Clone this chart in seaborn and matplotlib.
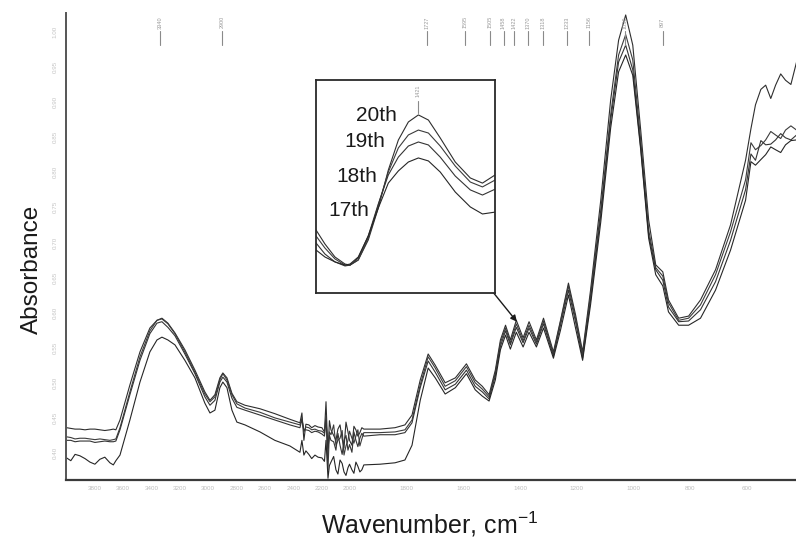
import numpy as np
import pandas as pd
import matplotlib
matplotlib.use("Agg")
import matplotlib.pyplot as plt
import seaborn as sns

# ---------------- data ----------------
wavenumber = [4000, 3970, 3940, 3906, 3870, 3835, 3800, 3765, 3730, 3694,
              3670, 3652, 3623, 3553, 3482, 3412, 3362, 3327, 3285, 3235,
              3165, 3094, 3024, 2988, 2953, 2918, 2897, 2868, 2833, 2798,
              2741, 2635, 2530, 2424, 2353, 2339, 2325, 2311, 2290, 2270,
              2247, 2225, 2198, 2180, 2169, 2155, 2145, 2134, 2115, 2099,
              2085, 2070, 2055, 2042, 2028, 2014, 2003, 1993, 1986, 1979,
              1972, 1965, 1958, 1951, 1894, 1841, 1806, 1781, 1752, 1724,
              1699, 1664, 1628, 1589, 1558, 1533, 1509, 1487, 1469, 1451,
              1434, 1413, 1389, 1368, 1342, 1317, 1282, 1257, 1229, 1204,
              1179, 1151, 1115, 1080, 1052, 1027, 1002, 974, 946, 921,
              896, 876, 840, 805, 763, 710, 657, 604, 585, 569,
              550, 533, 515, 498, 480, 463, 444, 424]

abs_20th = [0.436, 0.435, 0.434, 0.434, 0.433, 0.434, 0.434, 0.433, 0.432, 0.433,
            0.434, 0.433, 0.447, 0.497, 0.544, 0.578, 0.589, 0.592, 0.585, 0.571,
            0.547, 0.518, 0.487, 0.475, 0.483, 0.507, 0.514, 0.507, 0.485, 0.473,
            0.468, 0.463, 0.456, 0.448, 0.443, 0.457, 0.418, 0.441, 0.440, 0.436,
            0.439, 0.437, 0.436, 0.430, 0.473, 0.397, 0.446, 0.433, 0.425, 0.418,
            0.434, 0.440, 0.420, 0.407, 0.444, 0.430, 0.418, 0.411, 0.438, 0.433,
            0.424, 0.429, 0.436, 0.434, 0.434, 0.436, 0.440, 0.454, 0.504, 0.541,
            0.525, 0.500, 0.507, 0.527, 0.504, 0.495, 0.483, 0.518, 0.561, 0.582,
            0.561, 0.589, 0.564, 0.587, 0.561, 0.592, 0.544, 0.589, 0.642, 0.597,
            0.544, 0.632, 0.760, 0.903, 0.988, 1.024, 0.981, 0.860, 0.732, 0.668,
            0.658, 0.618, 0.592, 0.595, 0.618, 0.661, 0.725, 0.817, 0.862, 0.896,
            0.918, 0.924, 0.905, 0.924, 0.940, 0.931, 0.925, 0.957]

abs_19th = [0.423, 0.422, 0.420, 0.421, 0.421, 0.420, 0.419, 0.420, 0.419, 0.418,
            0.419, 0.420, 0.436, 0.487, 0.537, 0.574, 0.589, 0.591, 0.584, 0.570,
            0.544, 0.515, 0.484, 0.473, 0.480, 0.504, 0.513, 0.504, 0.483, 0.470,
            0.464, 0.458, 0.450, 0.444, 0.440, 0.450, 0.430, 0.437, 0.436, 0.433,
            0.434, 0.432, 0.431, 0.428, 0.454, 0.376, 0.430, 0.426, 0.440, 0.411,
            0.418, 0.421, 0.432, 0.397, 0.410, 0.418, 0.431, 0.421, 0.414, 0.424,
            0.433, 0.410, 0.420, 0.429, 0.429, 0.430, 0.433, 0.447, 0.497, 0.537,
            0.521, 0.495, 0.503, 0.523, 0.500, 0.491, 0.480, 0.514, 0.557, 0.578,
            0.557, 0.584, 0.560, 0.582, 0.558, 0.588, 0.541, 0.587, 0.638, 0.592,
            0.540, 0.625, 0.746, 0.882, 0.967, 0.996, 0.960, 0.846, 0.718, 0.664,
            0.652, 0.614, 0.589, 0.592, 0.611, 0.654, 0.715, 0.789, 0.842, 0.832,
            0.838, 0.846, 0.858, 0.853, 0.848, 0.860, 0.866, 0.860]

abs_18th = [0.418, 0.418, 0.416, 0.417, 0.417, 0.417, 0.415, 0.416, 0.417, 0.416,
            0.416, 0.417, 0.433, 0.483, 0.532, 0.570, 0.585, 0.587, 0.579, 0.567,
            0.541, 0.513, 0.480, 0.468, 0.475, 0.501, 0.508, 0.501, 0.478, 0.465,
            0.461, 0.454, 0.447, 0.440, 0.436, 0.447, 0.433, 0.433, 0.432, 0.429,
            0.431, 0.430, 0.427, 0.424, 0.447, 0.407, 0.425, 0.418, 0.416, 0.404,
            0.428, 0.411, 0.398, 0.418, 0.425, 0.404, 0.412, 0.401, 0.430, 0.418,
            0.409, 0.421, 0.428, 0.424, 0.426, 0.426, 0.429, 0.443, 0.493, 0.531,
            0.515, 0.490, 0.498, 0.518, 0.495, 0.487, 0.477, 0.510, 0.552, 0.574,
            0.554, 0.579, 0.557, 0.578, 0.555, 0.584, 0.538, 0.582, 0.632, 0.587,
            0.535, 0.618, 0.739, 0.874, 0.957, 0.981, 0.946, 0.835, 0.711, 0.661,
            0.646, 0.608, 0.587, 0.588, 0.604, 0.644, 0.703, 0.775, 0.826, 0.817,
            0.845, 0.839, 0.840, 0.846, 0.855, 0.849, 0.846, 0.853]

abs_17th = [0.393, 0.389, 0.398, 0.396, 0.392, 0.387, 0.384, 0.391, 0.394, 0.386,
            0.383, 0.389, 0.397, 0.447, 0.501, 0.544, 0.561, 0.565, 0.561, 0.554,
            0.532, 0.507, 0.471, 0.457, 0.461, 0.493, 0.501, 0.493, 0.461, 0.444,
            0.440, 0.430, 0.418, 0.410, 0.401, 0.418, 0.397, 0.403, 0.398, 0.392,
            0.397, 0.394, 0.393, 0.388, 0.418, 0.364, 0.382, 0.387, 0.395, 0.376,
            0.370, 0.390, 0.385, 0.373, 0.368, 0.379, 0.384, 0.376, 0.371, 0.387,
            0.381, 0.373, 0.376, 0.383, 0.384, 0.386, 0.390, 0.411, 0.475, 0.521,
            0.507, 0.484, 0.493, 0.513, 0.490, 0.481, 0.474, 0.504, 0.547, 0.568,
            0.548, 0.572, 0.551, 0.572, 0.551, 0.578, 0.535, 0.575, 0.625, 0.578,
            0.532, 0.611, 0.729, 0.863, 0.943, 0.967, 0.938, 0.832, 0.706, 0.654,
            0.638, 0.601, 0.582, 0.582, 0.592, 0.632, 0.689, 0.760, 0.815, 0.810,
            0.818, 0.825, 0.836, 0.832, 0.828, 0.839, 0.845, 0.846]

scans = ["20th", "19th", "18th", "17th"]

# close-up of the band near 1421 cm-1 (relative absorbance)
zoom_wavenumber = [1450.0, 1447.5, 1444.7, 1441.9, 1440.5, 1438.2, 1435.4, 1432.6, 1429.8,
                   1427.0, 1424.2, 1421.4, 1418.6, 1415.3, 1411.1, 1406.9, 1403.5, 1399.9]
zoom_20th = [0.296, 0.230, 0.169, 0.136, 0.131, 0.155, 0.249, 0.399, 0.577,
             0.718, 0.803, 0.836, 0.812, 0.728, 0.615, 0.540, 0.516, 0.555]
zoom_19th = [0.268, 0.211, 0.160, 0.131, 0.131, 0.155, 0.258, 0.413, 0.568,
             0.681, 0.742, 0.765, 0.751, 0.690, 0.596, 0.521, 0.498, 0.531]
zoom_18th = [0.235, 0.183, 0.146, 0.127, 0.131, 0.164, 0.268, 0.418, 0.554,
             0.638, 0.690, 0.709, 0.695, 0.638, 0.549, 0.484, 0.460, 0.488]
zoom_17th = [0.202, 0.169, 0.146, 0.131, 0.136, 0.169, 0.268, 0.399, 0.516,
             0.573, 0.615, 0.634, 0.620, 0.568, 0.474, 0.404, 0.371, 0.380]

# assigned band positions shown along the top
peak_marks = [3340, 2900, 1727, 1595, 1505, 1458, 1422, 1370, 1318, 1233, 1156, 1030, 897]

x_ticks = [3800, 3600, 3400, 3200, 3000, 2800, 2600, 2400, 2200, 2000,
           1800, 1600, 1400, 1200, 1000, 800, 600]
y_ticks = [0.40, 0.45, 0.50, 0.55, 0.60, 0.65, 0.70, 0.75, 0.80, 0.85, 0.90, 0.95, 1.00]

# ---------------- tables ----------------
spectra = pd.concat([
    pd.DataFrame({"wavenumber": wavenumber, "absorbance": vals, "scan": name})
    for name, vals in zip(scans, [abs_20th, abs_19th, abs_18th, abs_17th])
], ignore_index=True)

closeup = pd.concat([
    pd.DataFrame({"wavenumber": zoom_wavenumber, "absorbance": vals, "scan": name})
    for name, vals in zip(scans, [zoom_20th, zoom_19th, zoom_18th, zoom_17th])
], ignore_index=True)

# ---------------- style ----------------
sns.set_theme(style="white")
plt.rcParams["font.family"] = ["Liberation Sans", "DejaVu Sans"]
plt.rcParams["mathtext.default"] = "regular"

line_palette = {"20th": "#2e2e2e", "19th": "#3c3c3c", "18th": "#343434", "17th": "#262626"}

fig = plt.figure(figsize=(7.96, 5.59), dpi=100)
ax = fig.add_axes([66 / 796, 1 - 480 / 559, 730 / 796, 467 / 559])


# wavenumber axis: the 4000-2000 range is drawn at half scale
def fwd(w):
    w = np.asarray(w, dtype=float)
    return np.where(w >= 2000, 2000 + (w - 2000) / 2.0, w)


def inv(u):
    u = np.asarray(u, dtype=float)
    return np.where(u >= 2000, 2000 + 2.0 * (u - 2000), u)


ax.set_xscale("function", functions=(fwd, inv))

sns.lineplot(data=spectra, x="wavenumber", y="absorbance", hue="scan",
             palette=line_palette, estimator=None, sort=False, legend=False,
             linewidth=0.8, ax=ax)

ax.set_xlim(4004, 426)
ax.set_ylim(0.3615, 1.0268)

ax.set_xticks(x_ticks)
ax.set_xticklabels([str(t) for t in x_ticks])
ax.set_yticks(y_ticks)
ax.set_yticklabels([f"{t:.2f}" for t in y_ticks], rotation=90, va="center")
ax.tick_params(axis="x", length=3, width=0.6, color="#777777", pad=3,
               labelsize=4.5, labelcolor="#bdbdbd", direction="inout")
ax.tick_params(axis="y", length=3, width=0.6, color="#999999", pad=3,
               labelsize=4.5, labelcolor="#c4c4c4", direction="out")
ax.minorticks_off()

for side in ["top", "right"]:
    ax.spines[side].set_visible(False)
ax.spines["left"].set_color("#555555")
ax.spines["left"].set_linewidth(1.4)
ax.spines["bottom"].set_color("#3a3a3a")
ax.spines["bottom"].set_linewidth(1.6)

ax.set_xlabel("Wavenumber, cm$^{-1}$", fontsize=18, color="#1a1a1a")
ax.xaxis.set_label_coords(0.4986, -0.064)
ax.set_ylabel("Absorbance", fontsize=17.5, color="#1a1a1a")
ax.yaxis.set_label_coords(-0.031, 0.45)

# band markers along the top edge
xt = ax.get_xaxis_transform()
for p in peak_marks:
    ax.plot([p, p], [0.932, 0.962], transform=xt, color="#8a8a8a", lw=0.8)
    ax.text(p, 0.98, str(p), transform=xt, rotation=90, ha="center", va="center",
            fontsize=4, color="#9a9a9a")

# ---------------- close-up panel ----------------
inset = fig.add_axes([316 / 796, 1 - 293 / 559, 179 / 796, 213 / 559])
sns.lineplot(data=closeup, x="wavenumber", y="absorbance", hue="scan",
             palette=line_palette, estimator=None, sort=False, legend=False,
             linewidth=0.8, ax=inset)
inset.set_xlim(1450, 1400)
inset.set_ylim(0, 1)
inset.set_xticks([])
inset.set_yticks([])
inset.set_xlabel("")
inset.set_ylabel("")
for s in inset.spines.values():
    s.set_color("#2a2a2a")
    s.set_linewidth(1.3)

label_pos = {"20th": (0.335, 0.833), "19th": (0.270, 0.711), "18th": (0.230, 0.549),
             "17th": (0.185, 0.385)}
for name, (lx, ly) in label_pos.items():
    inset.text(lx, ly, name, transform=inset.transAxes, ha="center", va="center",
               fontsize=15, color="#1a1a1a")

inset.plot([1421.4, 1421.4], [0.845, 0.90], color="#8a8a8a", lw=0.8)
inset.text(1421.4, 0.95, "1421", rotation=90, ha="center", va="center",
           fontsize=4, color="#9a9a9a")

# pointer from the panel to the band it magnifies
ax.annotate("", xy=(1411, 0.587), xytext=(1495, 0.629),
            arrowprops=dict(arrowstyle="-|>", color="#1a1a1a", lw=1.0,
                            mutation_scale=9, shrinkA=0, shrinkB=0))

fig.savefig("out.png", dpi=100, facecolor="white")
